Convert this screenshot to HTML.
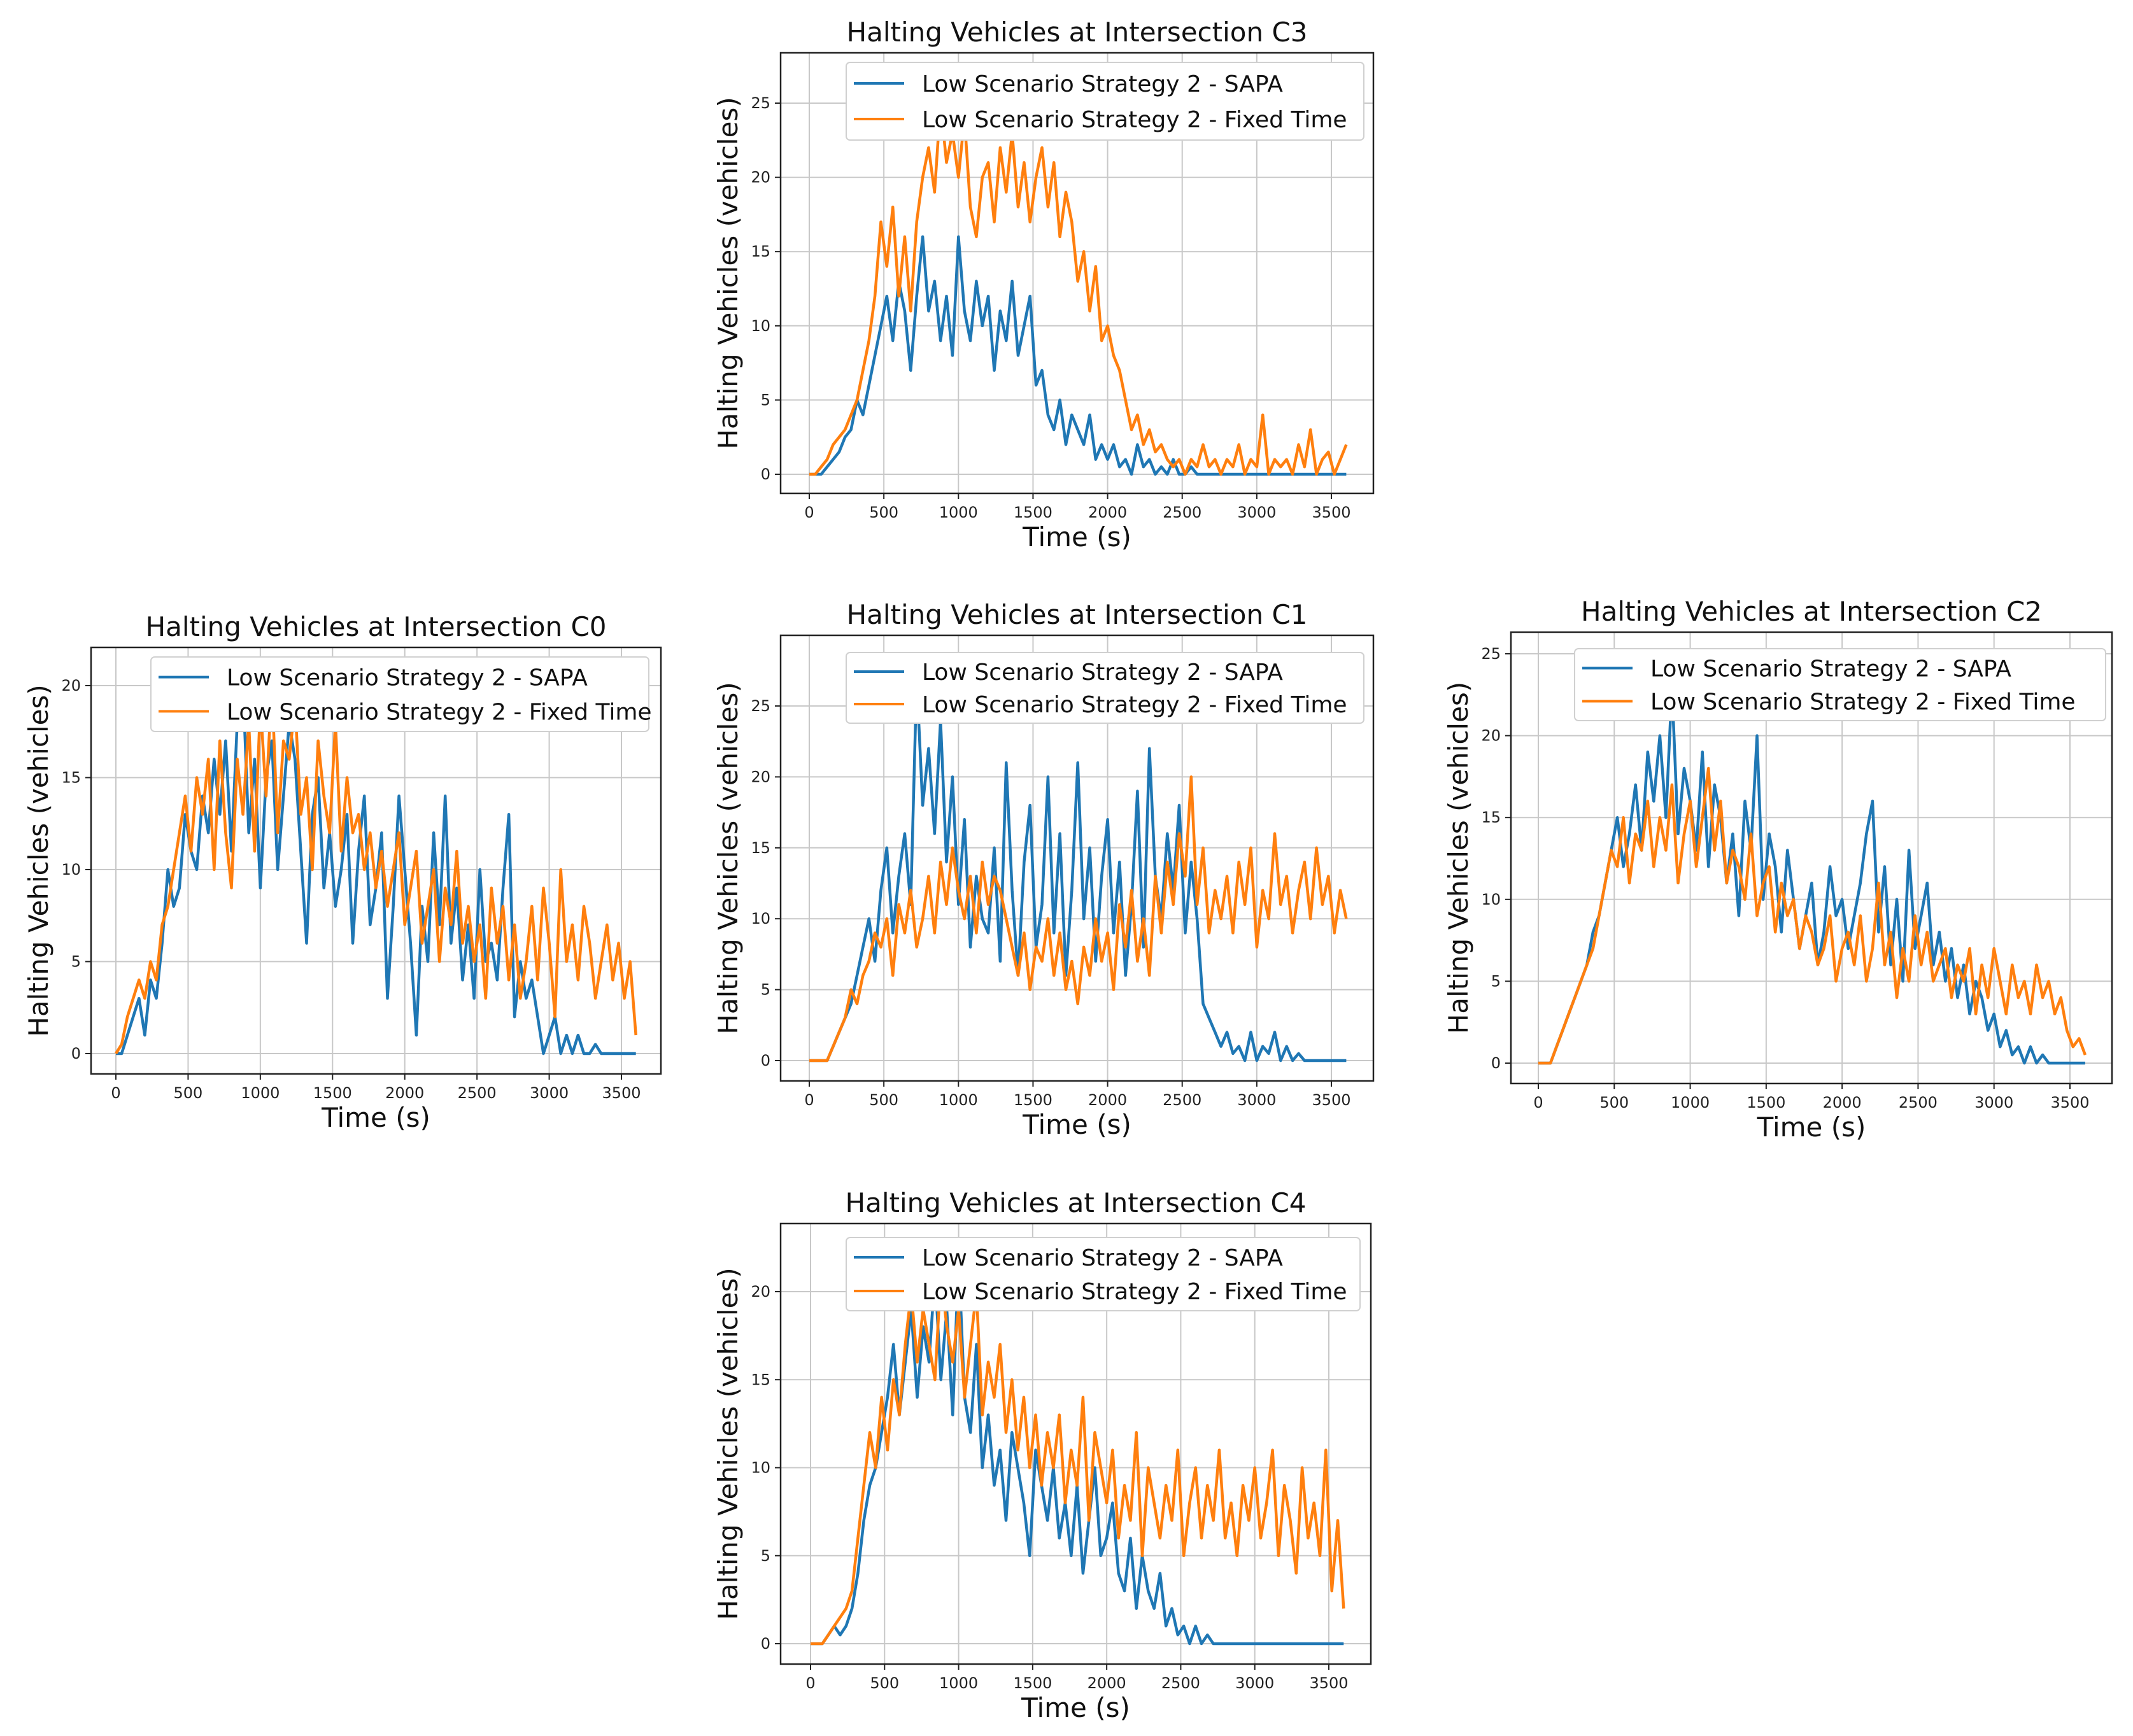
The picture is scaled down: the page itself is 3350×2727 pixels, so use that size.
<!DOCTYPE html>
<html><head><meta charset="utf-8"><style>
html,body{margin:0;padding:0;background:#fff;}
svg{display:block;font-family:"DejaVu Sans","Liberation Sans",sans-serif;}
</style></head><body>
<svg id="fig" width="3350" height="2727" viewBox="0 0 3350 2727" xmlns="http://www.w3.org/2000/svg"></svg>
<script>
const xTicks=[0,500,1000,1500,2000,2500,3000,3500];
const yTicks25=[0,5,10,15,20,25];
const yTicks20=[0,5,10,15,20];
const step=40;
const c3Sapa=[0,0,0,0.5,1,1.5,2.5,3,5,4, 6,8,10,12,9,13,11,7,12,16, 11,13,9,12,8,16,11,9,13,10, 12,7,11,9,13,8,10,12,6,7, 4,3,5,2,4,3,2,4,1,2, 1,2,0.5,1,0,2,0.5,1,0,0.5, 0,1,0,0,0.5,0,0,0,0,0, 0,0,0,0,0,0,0,0,0,0, 0,0,0,0,0,0,0,0,0,0,0];
const c3Fixed=[0,0,0.5,1,2,2.5,3,4,5,7, 9,12,17,14,18,12,16,11,17,20, 22,19,25,21,23,20,24,18,16,20, 21,17,22,19,23,18,21,17,20,22, 18,21,16,19,17,13,15,11,14,9, 10,8,7,5,3,4,2,3,1.5,2, 1,0.5,1,0,1,0.5,2,0.5,1,0, 1,0.5,2,0,1,0.5,4,0,1,0.5, 1,0,2,0.5,3,0,1,1.5,0,1,2];
const c0Sapa=[0,0,1,2,3,1,4,3,6,10, 8,9,13,11,10,14,12,16,13,17, 11,18,20,12,16,9,15,17,10,14, 18,16,11,6,13,15,9,12,8,10, 13,6,11,14,7,9,12,3,8,14, 10,6,1,8,5,12,7,14,6,9, 4,7,3,10,5,6,4,9,13,2, 5,3,4,2,0,1,2,0,1,0, 1,0,0,0.5,0,0,0,0,0,0,0];
const c0Fixed=[0,0.5,2,3,4,3,5,4,7,8, 10,12,14,11,15,13,16,10,17,12, 9,16,13,18,11,19,14,20,12,17, 16,19,13,15,10,17,14,12,18,11, 15,12,13,10,12,9,11,8,10,12, 7,9,11,6,8,10,5,9,7,11, 6,8,5,7,3,9,6,8,4,7, 3,5,8,4,9,6,2,10,5,7, 4,8,6,3,5,7,4,6,3,5,1];
const c1Sapa=[0,0,0,0,1,2,3,4,6,8, 10,7,12,15,9,13,16,11,27,18, 22,16,24,14,20,11,17,8,13,10, 9,15,7,21,12,6,14,18,8,11, 20,9,16,6,12,21,10,15,7,13, 17,9,14,6,11,19,8,22,13,10, 16,12,18,9,14,10,4,3,2,1, 2,0.5,1,0,2,0,1,0.5,2,0, 1,0,0.5,0,0,0,0,0,0,0,0];
const c1Fixed=[0,0,0,0,1,2,3,5,4,6, 7,9,8,10,6,11,9,12,8,10, 13,9,14,11,15,12,10,13,9,14, 11,13,12,10,8,6,9,5,8,7, 10,6,9,5,7,4,8,6,10,7, 9,5,11,8,12,7,10,6,13,9, 14,11,16,13,20,11,15,9,12,10, 13,9,14,11,15,8,12,10,16,11, 13,9,12,14,10,15,11,13,9,12,10];
const c2Sapa=[0,0,0,1,2,3,4,5,6,8, 9,11,13,15,12,14,17,13,19,16, 20,15,23,14,18,16,13,19,12,17, 15,11,14,9,16,13,20,10,14,12, 8,13,10,7,9,11,6,8,12,9, 10,7,9,11,14,16,8,12,6,10, 5,13,7,9,11,6,8,5,7,4, 6,3,5,4,2,3,1,2,0.5,1, 0,1,0,0.5,0,0,0,0,0,0,0];
const c2Fixed=[0,0,0,1,2,3,4,5,6,7, 9,11,13,12,15,11,14,13,16,12, 15,13,17,11,14,16,12,15,18,13, 16,11,13,12,10,14,9,11,12,8, 11,9,10,7,9,8,6,7,9,5, 7,8,6,9,5,7,11,6,8,4, 7,5,9,6,8,5,6,7,4,6, 5,7,3,6,4,7,5,3,6,4, 5,3,6,4,5,3,4,2,1,1.5,0.5];
const c4Sapa=[0,0,0,0.5,1,0.5,1,2,4,7, 9,10,12,14,17,13,16,19,14,18, 16,21,15,19,13,22,14,12,17,10, 13,9,11,7,12,10,8,5,11,9, 7,10,6,8,5,9,4,7,10,5, 6,8,4,3,6,2,5,3,2,4, 1,2,0.5,1,0,1,0,0.5,0,0, 0,0,0,0,0,0,0,0,0,0, 0,0,0,0,0,0,0,0,0,0,0];
const c4Fixed=[0,0,0,0.5,1,1.5,2,3,6,9, 12,10,14,11,15,13,17,20,16,19, 17,15,21,18,16,19,14,17,20,13, 16,14,17,12,15,11,14,10,13,9, 12,10,13,8,11,9,14,7,12,10, 8,11,6,9,7,12,5,10,8,6, 9,7,11,5,8,10,6,9,7,11, 6,8,5,9,7,10,6,8,11,5, 9,7,4,10,6,8,5,11,3,7,2];

const NS="http://www.w3.org/2000/svg";
const svg=document.getElementById('fig');
function mk(tag,attrs,parent){const e=document.createElementNS(NS,tag);for(const k in attrs)e.setAttribute(k,attrs[k]);parent.appendChild(e);return e;}

const charts=[
 {id:'c3',title:'Halting Vehicles at Intersection C3',L:1226,R:2157,T:83,B:775,x0px:1271,x3500px:2091,y0px:745,yTopVal:25,yTopPx:162,yt:yTicks25,sapa:c3Sapa,fixed:c3Fixed,leg:[1329,98,813,122]},
 {id:'c0',title:'Halting Vehicles at Intersection C0',L:143,R:1038,T:1017,B:1687,x0px:182,x3500px:976,y0px:1655,yTopVal:20,yTopPx:1077,yt:yTicks20,sapa:c0Sapa,fixed:c0Fixed,leg:[237,1032,782,117]},
 {id:'c1',title:'Halting Vehicles at Intersection C1',L:1226,R:2157,T:998,B:1698,x0px:1271,x3500px:2091,y0px:1666,yTopVal:25,yTopPx:1109,yt:yTicks25,sapa:c1Sapa,fixed:c1Fixed,leg:[1329,1025,813,111]},
 {id:'c2',title:'Halting Vehicles at Intersection C2',L:2373,R:3317,T:993,B:1702,x0px:2416,x3500px:3251,y0px:1670,yTopVal:25,yTopPx:1027,yt:yTicks25,sapa:c2Sapa,fixed:c2Fixed,leg:[2473,1019,834,113]},
 {id:'c4',title:'Halting Vehicles at Intersection C4',L:1226,R:2153,T:1922,B:2614,x0px:1273,x3500px:2087,y0px:2582,yTopVal:20,yTopPx:2029,yt:yTicks20,sapa:c4Sapa,fixed:c4Fixed,leg:[1329,1944,807,115]}
];

charts.forEach(c=>{
 const g=mk('g',{},svg);
 
 
 const xs=v=>c.x0px+(c.x3500px-c.x0px)*v/3500;
 const ys=v=>c.y0px+(c.yTopPx-c.y0px)*v/c.yTopVal;
 const cx=(c.L+c.R)/2;
 const t=mk('text',{x:cx,y:c.T-18,'text-anchor':'middle','font-size':42,fill:'#111'},g);
 t.textContent=c.title;
 
 
 xTicks.forEach(v=>{
  const gl=mk('line',{x1:xs(v),x2:xs(v),y1:c.T,y2:c.B,stroke:'#c8c8c8','stroke-width':2},g);
  
  
  const tk=mk('line',{x1:xs(v),x2:xs(v),y1:c.B,y2:c.B+9,stroke:'#222','stroke-width':2},g);
  
  
  const tl=mk('text',{x:xs(v),y:c.B+38,'text-anchor':'middle','font-size':24,fill:'#222'},g);
  tl.textContent=v;
  
  
 });
 c.yt.forEach(v=>{
  const gl=mk('line',{x1:c.L,x2:c.R,y1:ys(v),y2:ys(v),stroke:'#c8c8c8','stroke-width':2},g);
  
  
  const tk=mk('line',{x1:c.L-9,x2:c.L,y1:ys(v),y2:ys(v),stroke:'#222','stroke-width':2},g);
  
  
  const tl=mk('text',{x:c.L-16,y:ys(v)+8,'text-anchor':'end','font-size':24,fill:'#222'},g);
  tl.textContent=v;
  
  
 });
 [[c.sapa,'#1f77b4','sapa-line'],[c.fixed,'#ff7f0e','fixed-time-line']].forEach(([arr,col,nm])=>{
  const pts=arr.map((v,i)=>xs(Math.min(i*step,3600)).toFixed(1)+','+ys(v).toFixed(1)).join(' ');
  const pl=mk('polyline',{points:pts,fill:'none',stroke:col,'stroke-width':4.5,'stroke-linejoin':'round'},g);
  
  
 });
 const fr=mk('rect',{x:c.L,y:c.T,width:c.R-c.L,height:c.B-c.T,fill:'none',stroke:'#222','stroke-width':2.5},g);
 
 
 const xl=mk('text',{x:cx,y:c.B+83,'text-anchor':'middle','font-size':42,fill:'#111'},g);
 xl.textContent='Time (s)';
 
 
 const ymid=(c.T+c.B)/2, yx=c.L-68;
 const yl=mk('text',{x:yx,y:ymid,'text-anchor':'middle','font-size':42,fill:'#111',transform:`rotate(-90 ${yx} ${ymid})`},g);
 yl.textContent='Halting Vehicles (vehicles)';
 
 
 const [lx,ly,lw,lh]=c.leg;
 const lg=mk('g',{},g);
 
 
 mk('rect',{x:lx,y:ly,width:lw,height:lh,rx:6,fill:'#fff',stroke:'#d0d0d0','stroke-width':2},lg);
 [['Low Scenario Strategy 2 - SAPA','#1f77b4'],['Low Scenario Strategy 2 - Fixed Time','#ff7f0e']].forEach(([lab,col],i)=>{
  const ey=ly+lh*0.27+i*lh*0.46;
  const e=mk('g',{},lg);
  
  
  mk('line',{x1:lx+12,x2:lx+91,y1:ey,y2:ey,stroke:col,'stroke-width':4},e);
  const tx=mk('text',{x:lx+119,y:ey+13,'font-size':36,fill:'#111'},e);
  tx.textContent=lab;
 });
});
</script>
</body></html>
